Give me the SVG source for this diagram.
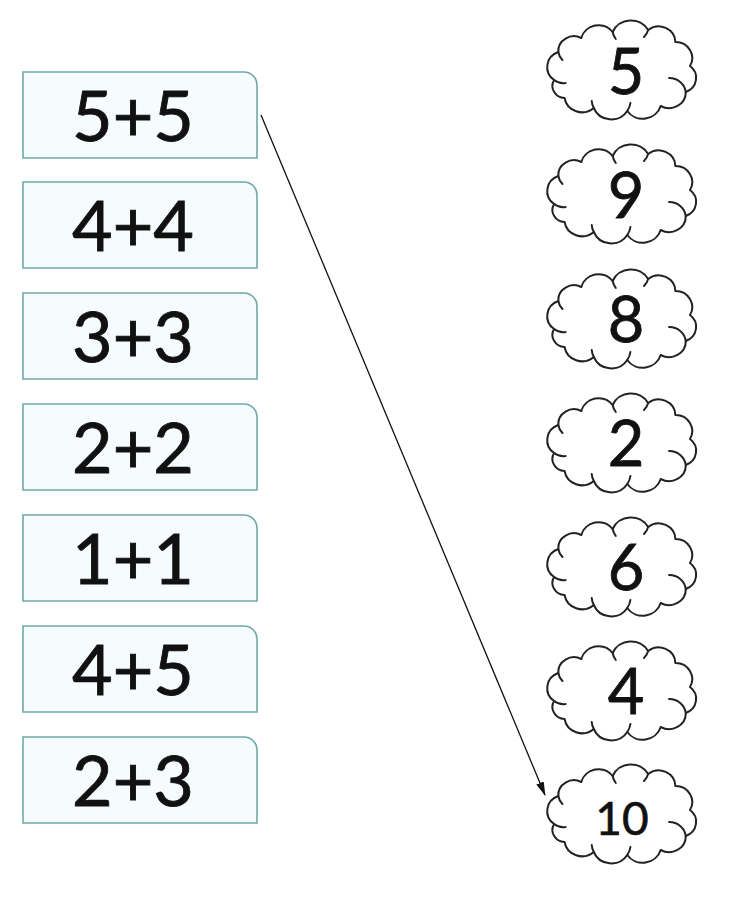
<svg xmlns="http://www.w3.org/2000/svg" width="735" height="904" viewBox="0 0 735 904">
<style>
.box{fill:#f6fcfd;stroke:#6fa9a8;stroke-width:1.6}
.bt{font-family:Lato,"Liberation Sans",sans-serif;font-size:70px;fill:#111;stroke:#111;stroke-width:0.9;text-anchor:middle}
.cl{fill:#fff;stroke:#222;stroke-width:2;vector-effect:non-scaling-stroke;stroke-linejoin:round}
.curl{fill:none;stroke:#222;stroke-width:2;vector-effect:non-scaling-stroke;stroke-linecap:round}
.ct{font-family:Lato,"Liberation Sans",sans-serif;font-size:63px;fill:#111;stroke:#111;stroke-width:0.8;text-anchor:middle}
.conn{stroke:#111;stroke-width:1.3;fill:none}
</style>
<defs>
<path id="boxshape" d="M0 0 H221 A13 13 0 0 1 234 13 V86 H0 Z"/>
<g id="cloud">
<path class="cl" d="M-64 10 A16 16 0 0 1 -60 -18 A15 15 0 0 1 -38 -32 A17 17 0 0 1 -8 -38 A19 19 0 0 1 26 -40 A16 16 0 0 1 52 -28 A16 16 0 0 1 66 -4 A15 15 0 0 1 62 22 A16 16 0 0 1 38 36 A18 18 0 0 1 6 41 A18 18 0 0 1 -26 38 A17 17 0 0 1 -54 28 A12 12 0 0 1 -64 10 Z"/>
<path class="curl" d="M-64 10 A14 14 0 0 0 -53 13 M-60 -18 A15 15 0 0 0 -56 -10 M-8 -38 A17 17 0 0 0 -5 -31 M26 -40 A16 16 0 0 1 22 -33 M62 22 A16 16 0 0 0 46 8 M6 41 A18 18 0 0 0 9 33 M-26 38 A16 16 0 0 1 -28 31"/>
</g>
<marker id="ah" viewBox="0 0 14 8" refX="13" refY="4" markerWidth="14" markerHeight="8" markerUnits="userSpaceOnUse" orient="auto">
<path d="M0 0 L14 4 L0 8 Z" fill="#111"/>
</marker>
</defs>
<rect width="735" height="904" fill="#fff"/>
<g id="b1"><use href="#boxshape" class="box" x="23" y="72"/><text class="bt" x="133" y="141">5+5</text></g>
<g id="b2"><use href="#boxshape" class="box" x="23" y="182"/><text class="bt" x="133" y="251">4+4</text></g>
<g id="b3"><use href="#boxshape" class="box" x="23" y="293"/><text class="bt" x="133" y="362">3+3</text></g>
<g id="b4"><use href="#boxshape" class="box" x="23" y="404"/><text class="bt" x="133" y="473">2+2</text></g>
<g id="b5"><use href="#boxshape" class="box" x="23" y="515"/><text class="bt" x="133" y="584">1+1</text></g>
<g id="b6"><use href="#boxshape" class="box" x="23" y="626"/><text class="bt" x="133" y="695">4+5</text></g>
<g id="b7"><use href="#boxshape" class="box" x="23" y="737"/><text class="bt" x="133" y="806">2+3</text></g>
<g id="c1"><use href="#cloud" transform="translate(621,70) scale(1.045,1)"/><text class="ct" x="626" y="94">5</text></g>
<g id="c2"><use href="#cloud" transform="translate(621,194) scale(1.045,1)"/><text class="ct" x="626" y="218">9</text></g>
<g id="c3"><use href="#cloud" transform="translate(621,319) scale(1.045,1)"/><text class="ct" x="626" y="342">8</text></g>
<g id="c4"><use href="#cloud" transform="translate(621,443) scale(1.045,1)"/><text class="ct" x="626" y="466">2</text></g>
<g id="c5"><use href="#cloud" transform="translate(621,567) scale(1.045,1)"/><text class="ct" x="626" y="590">6</text></g>
<g id="c6"><use href="#cloud" transform="translate(621,691) scale(1.045,1)"/><text class="ct" x="626" y="714">4</text></g>
<g id="c7"><use href="#cloud" transform="translate(621,814) scale(1.045,1)"/><text class="ct" x="622" y="835" style="font-size:46px;stroke-width:0.6">10</text></g>
<g id="connectors">
<line class="conn" x1="261" y1="115" x2="545" y2="795" marker-end="url(#ah)"/>
</g>
</svg>
